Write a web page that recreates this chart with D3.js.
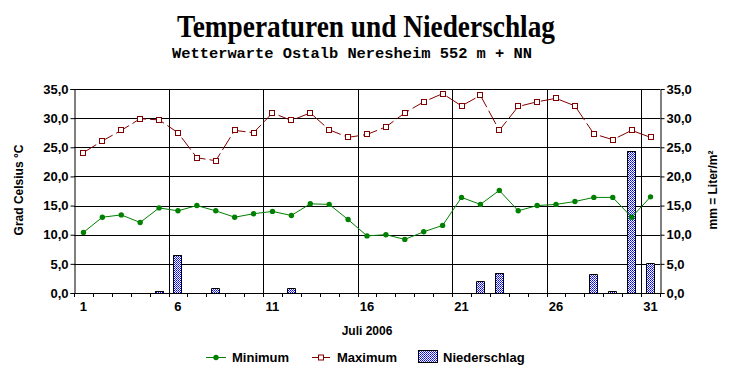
<!DOCTYPE html>
<html><head><meta charset="utf-8">
<script src="https://cdn.jsdelivr.net/npm/d3@7/dist/d3.min.js"></script>
<style>
body{margin:0;background:#fff;}
svg{display:block;}
text{font-family:"Liberation Sans",Arial,sans-serif;font-weight:bold;fill:#000;}
</style></head>
<body>
<svg id="chart" width="732" height="380"></svg>
<script>
const days = d3.range(1, 32);
const minimum = [10.4,13.0,13.4,12.1,14.6,14.1,15.0,14.1,13.0,13.6,14.0,13.3,15.3,15.2,12.6,9.8,10.0,9.2,10.5,11.6,16.4,15.2,17.6,14.1,15.0,15.2,15.7,16.4,16.4,13.0,16.5];
const maximum = [24.1,26.1,27.9,29.9,29.7,27.5,23.2,22.7,27.9,27.5,30.9,29.6,30.9,28.0,26.7,27.2,28.5,30.9,32.8,34.2,32.1,33.9,27.9,32.0,32.8,33.4,32.1,27.3,26.3,27.9,26.7];
const niederschlag = [0,0,0,0,0.4,6.6,0,0.9,0,0,0,0.9,0,0,0,0,0,0,0,0,0,2.1,3.4,0,0,0,0,3.2,0.4,24.4,5.2];
const yTicks = [0,5,10,15,20,25,30,35];
const xLabelDays = [1,6,11,16,21,26,31];
const gridDays = [6,11,16,21,26,31];

const svg = d3.select("#chart");
const L = 74, R = 660, T = 89, B = 293;

const x = d3.scaleBand().domain(days).range([L, R]).paddingInner(0).paddingOuter(0);
const y = d3.scaleLinear().domain([0, 35]).range([B, T]);
const fmt = v => d3.format(".1f")(v).replace(".", ",");

// pattern for bars
const defs = svg.append("defs");
const pat = defs.append("pattern").attr("id","bluedots").attr("patternUnits","userSpaceOnUse")
  .attr("x",0).attr("y",0).attr("width",2).attr("height",2);
pat.append("rect").attr("x",0).attr("y",0).attr("width",2).attr("height",2).style("fill","#ffffff");
pat.append("rect").attr("x",0).attr("y",0).attr("width",1).attr("height",1).style("fill","#0000ff");
pat.append("rect").attr("x",1).attr("y",1).attr("width",1).attr("height",1).style("fill","#3030ff");

// title
svg.append("text").attr("x",366).attr("y",37).attr("text-anchor","middle")
  .style("font-family",'"Liberation Serif","Times New Roman",serif').style("font-size","32px")
  .attr("textLength",378).attr("lengthAdjust","spacingAndGlyphs")
  .text("Temperaturen und Niederschlag");
svg.append("text").attr("x",352).attr("y",58).attr("text-anchor","middle")
  .style("font-family",'"Liberation Mono","Courier New",monospace').style("font-size","14px")
  .attr("textLength",360).attr("lengthAdjust","spacingAndGlyphs")
  .text("Wetterwarte Ostalb Neresheim 552 m + NN");

// horizontal grid
svg.append("g").selectAll("line").data(yTicks).join("line")
  .attr("x1",L).attr("x2",R).attr("y1",d=>Math.round(y(d))+0.5).attr("y2",d=>Math.round(y(d))+0.5)
  .attr("stroke","#000").attr("stroke-width",1);
// vertical grid
svg.append("g").selectAll("line").data(gridDays).join("line")
  .attr("x1",d=>Math.round(x(d))+0.5).attr("x2",d=>Math.round(x(d))+0.5).attr("y1",T).attr("y2",B)
  .attr("stroke","#000");

// left axis
const ga = svg.append("g").attr("transform",`translate(${L+0.5},0)`)
  .call(d3.axisLeft(y).tickValues(yTicks).tickFormat(fmt).tickSize(4).tickPadding(2));
ga.select(".domain").attr("stroke","#000");
ga.selectAll("text").style("font-size","13px").style("font-family",'"Liberation Sans",Arial,sans-serif').attr("font-weight","bold");
// right axis
const gr = svg.append("g").attr("transform",`translate(${R+0.5},0)`)
  .call(d3.axisRight(y).tickValues(yTicks).tickFormat(fmt).tickSize(4).tickPadding(2));
gr.selectAll("text").style("font-size","13px").style("font-family",'"Liberation Sans",Arial,sans-serif').attr("font-weight","bold");

// bottom axis: ticks at band edges
const gb = svg.append("g");
gb.append("line").attr("x1",L).attr("x2",R).attr("y1",B+0.5).attr("y2",B+0.5).attr("stroke","#000");
gb.selectAll("line.t").data(days.concat([32])).join("line").attr("class","t")
  .attr("x1",d=>Math.round(d<=31?x(d):R)+0.5).attr("x2",d=>Math.round(d<=31?x(d):R)+0.5)
  .attr("y1",B).attr("y2",B+4).attr("stroke","#000");
gb.selectAll("text").data(xLabelDays).join("text")
  .attr("x",d=>x(d)+x.bandwidth()/2).attr("y",311).attr("text-anchor","middle")
  .style("font-size","13px").text(d=>d);

svg.append("text").attr("x",367).attr("y",335).attr("text-anchor","middle").style("font-size","12px").text("Juli 2006");

// axis titles
svg.append("text").attr("transform","translate(23,190) rotate(-90)").attr("text-anchor","middle").style("font-size","12px").text("Grad Celsius °C");
svg.append("text").attr("transform","translate(717,190) rotate(-90)").attr("text-anchor","middle").style("font-size","12px").text("mm = Liter/m²");

// bars
const bw = Math.round(x.bandwidth()*0.5);
const barG = svg.append("g");
barG.selectAll("rect").data(days.filter((d,i)=>niederschlag[i]>0)).join("rect")
  .attr("x",d=>Math.round(x(d)+x.bandwidth()/2-bw/2))
  .attr("y",d=>Math.round(y(niederschlag[d-1])))
  .attr("width",bw)
  .attr("height",d=>B-Math.round(y(niederschlag[d-1])))
  .style("fill","url(#bluedots)");
barG.selectAll("path").data(days.filter((d,i)=>niederschlag[i]>0)).join("path")
  .attr("d",d=>{
    const x0=Math.round(x(d)+x.bandwidth()/2-bw/2)+0.5, y0=Math.round(y(niederschlag[d-1]))+0.5;
    return `M${x0},${B+0.5}V${y0}H${x0+bw-1}V${B+0.5}`;
  })
  .attr("fill","none").attr("stroke","#000");

const cx = d => x(d)+x.bandwidth()/2;
// minimum line
svg.append("path").datum(days).attr("fill","none").attr("stroke","#008000").attr("stroke-width",1)
  .attr("d",d3.line().x(cx).y(d=>y(minimum[d-1])));
svg.append("g").selectAll("circle").data(days).join("circle")
  .attr("cx",cx).attr("cy",d=>y(minimum[d-1])).attr("r",2.7).attr("fill","#008000");

// maximum line
svg.append("path").datum(days).attr("fill","none").attr("stroke","#800000").attr("stroke-width",1)
  .attr("stroke-dasharray","15,4")
  .attr("d",d3.line().x(cx).y(d=>y(maximum[d-1])));
svg.append("g").selectAll("rect").data(days).join("rect")
  .attr("x",d=>Math.round(cx(d))-2.5).attr("y",d=>Math.round(y(maximum[d-1]))-2.5)
  .attr("width",5).attr("height",5).attr("fill","#fff").attr("stroke","#800000");

// legend
const lg = svg.append("g");
lg.append("line").attr("x1",206).attr("x2",226).attr("y1",357.5).attr("y2",357.5).attr("stroke","#008000");
lg.append("circle").attr("cx",216).attr("cy",357.5).attr("r",2.7).attr("fill","#008000");
lg.append("text").attr("x",232).attr("y",362).style("font-size","13px").text("Minimum");
lg.append("line").attr("x1",312).attr("x2",330).attr("y1",357.5).attr("y2",357.5).attr("stroke","#800000");
lg.append("rect").attr("x",318.5).attr("y",355).attr("width",5).attr("height",5).attr("fill","#fff").attr("stroke","#800000");
lg.append("text").attr("x",337).attr("y",362).style("font-size","13px").text("Maximum");
lg.append("rect").attr("x",418).attr("y",350).attr("width",20).attr("height",13).style("fill","url(#bluedots)");
lg.append("rect").attr("x",418.5).attr("y",350.5).attr("width",19).attr("height",12).attr("fill","none").attr("stroke","#000");
lg.append("text").attr("x",443).attr("y",362).style("font-size","13px").text("Niederschlag");
</script>
</body></html>
